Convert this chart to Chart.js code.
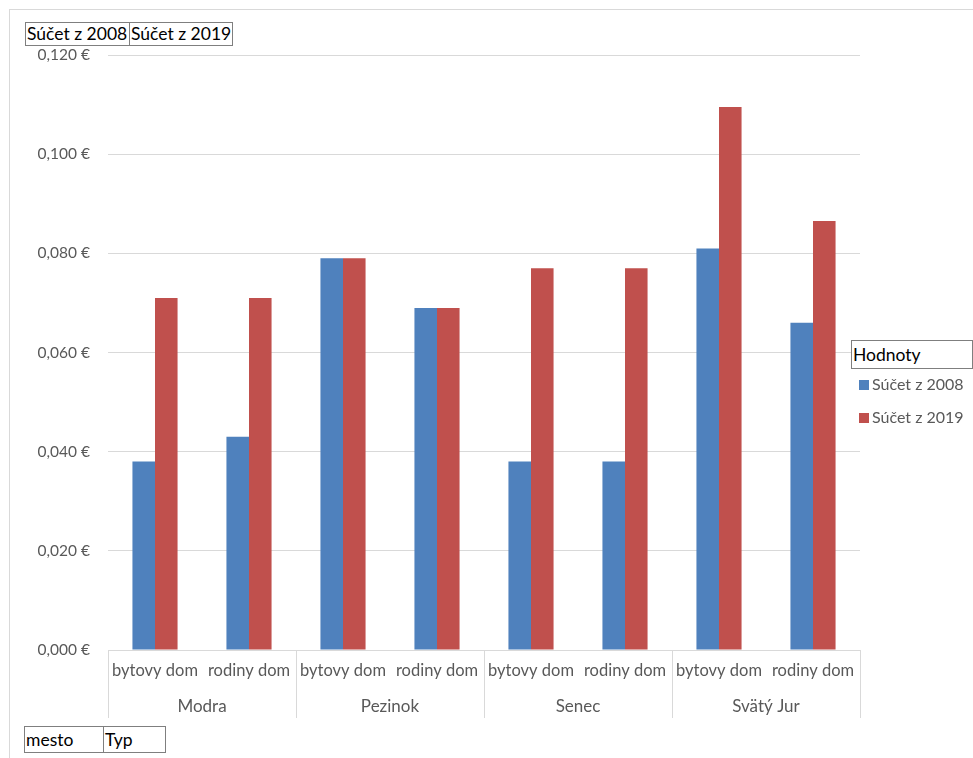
<!DOCTYPE html>
<html>
<head>
<meta charset="utf-8">
<script src="https://cdn.jsdelivr.net/npm/chart.js@4/dist/chart.umd.min.js"></script>
<style>
  body { margin: 0; background: #fff; font-family: Lato, "Liberation Sans", sans-serif; }
  #wrap { position: relative; width: 973px; height: 758px; overflow: hidden; }
  #frame { position: absolute; left: 9px; top: 9px; width: 980px; height: 760px; border: 1px solid #d9d9d9; }
  .btn { position: absolute; box-sizing: border-box; border: 1px solid #7f7f7f; background: #fff;
         font-size: 17.5px; color: #000; line-height: 21px; padding-left: 1px; white-space: nowrap; }
</style>
</head>
<body>
<div id="wrap">
  <div id="frame"></div>
  <div id="holder" style="position:absolute;left:0;top:0;width:973px;height:758px;">
    <canvas id="chart"></canvas>
  </div>
  <div class="btn" style="left:25px;top:22px;width:105px;height:24px;">Súčet z 2008</div>
  <div class="btn" style="left:129px;top:22px;width:104px;height:24px;">Súčet z 2019</div>
  <div class="btn" style="left:851px;top:340px;width:122px;height:29px;line-height:27px;">Hodnoty</div>
  <div class="btn" style="left:24px;top:726px;width:80px;height:27px;line-height:25px;">mesto</div>
  <div class="btn" style="left:103px;top:726px;width:63px;height:27px;line-height:25px;">Typ</div>
</div>
<script>
var towns = ['Modra', 'Pezinok', 'Senec', 'Svätý Jur']
var types = ['bytovy dom', 'rodiny dom']
var labels = ['bytovy dom', 'rodiny dom', 'bytovy dom', 'rodiny dom', 'bytovy dom', 'rodiny dom', 'bytovy dom', 'rodiny dom']
var sum2008 = [0.038, 0.043, 0.079, 0.069, 0.038, 0.038, 0.081, 0.066]
var sum2019 = [0.071, 0.071, 0.079, 0.069, 0.077, 0.077, 0.1095, 0.0865]
var yTicks = [0, 0.02, 0.04, 0.06, 0.08, 0.1, 0.12]

var gray = '#595959'
var line = '#d9d9d9'
var font = 'Lato, "Liberation Sans", sans-serif'

// group labels + separators under the category axis, and the legend items
var groupPlugin = {
  id: 'groups',
  afterDraw: function(chart) {
    var ctx = chart.ctx
    var x = chart.scales.x
    var per = types.length
    ctx.save()
    ctx.strokeStyle = line
    ctx.lineWidth = 1
    ctx.fillStyle = gray
    ctx.font = '17px ' + font
    ctx.textAlign = 'center'
    ctx.textBaseline = 'middle'
    for (var g = 0; g <= towns.length; g++) {
      var px
      if (g == 0) px = x.left
      else if (g == towns.length) px = x.right
      else px = (x.getPixelForValue(g * per - 1) + x.getPixelForValue(g * per)) / 2
      px = Math.round(px) + 0.5
      ctx.beginPath()
      ctx.moveTo(px, x.top)
      ctx.lineTo(px, x.top + 68)
      ctx.stroke()
    }
    towns.forEach(function(t, g) {
      var a = x.getPixelForValue(g * per)
      var b = x.getPixelForValue(g * per + per - 1)
      ctx.fillText(t, (a + b) / 2, x.top + 57)
    })
    // legend
    ctx.font = '16px ' + font
    ctx.textAlign = 'left'
    chart.data.datasets.forEach(function(ds, i) {
      var cy = 385 + i * 33
      ctx.fillStyle = ds.backgroundColor
      ctx.fillRect(859, cy - 5, 10, 10)
      ctx.fillStyle = gray
      ctx.fillText(ds.label, 872, cy)
    })
    ctx.restore()
  }
}

document.addEventListener('DOMContentLoaded', function() {
  var ctx = document.getElementById('chart').getContext('2d')
  var myChart = new Chart(ctx, {
    type: 'bar',
    data: {
      labels: labels,
      datasets: [
        {
          label: 'Súčet z 2008',
          data: sum2008,
          backgroundColor: '#4F81BD',
          categoryPercentage: 0.48,
          barPercentage: 1
        },
        {
          label: 'Súčet z 2019',
          data: sum2019,
          backgroundColor: '#C0504D',
          categoryPercentage: 0.48,
          barPercentage: 1
        }
      ]
    },
    plugins: [groupPlugin],
    options: {
      responsive: true,
      maintainAspectRatio: false,
      animation: false,
      layout: { padding: { left: 0, top: 55, right: 113, bottom: 40 } },
      plugins: {
        legend: { display: false },
        tooltip: { enabled: false }
      },
      scales: {
        x: {
          grid: { display: false, drawTicks: false },
          border: { display: true, color: line },
          ticks: { color: gray, font: { family: font, size: 16.5 }, padding: 11, autoSkip: false, maxRotation: 0 },
          afterFit: function(scale) { scale.height = 68 }
        },
        y: {
          min: 0,
          max: 0.12,
          afterBuildTicks: function(scale) { scale.ticks = yTicks.map(function(v) { return { value: v } }) },
          grid: { color: line, drawTicks: false },
          border: { display: false },
          ticks: {
            color: gray,
            font: { family: font, size: 15.5 },
            padding: 18,
            callback: function(v) { return v.toFixed(3).replace('.', ',') + ' €' }
          },
          afterFit: function(scale) { scale.width = 108 }
        }
      }
    }
  })
})
</script>
</body>
</html>
